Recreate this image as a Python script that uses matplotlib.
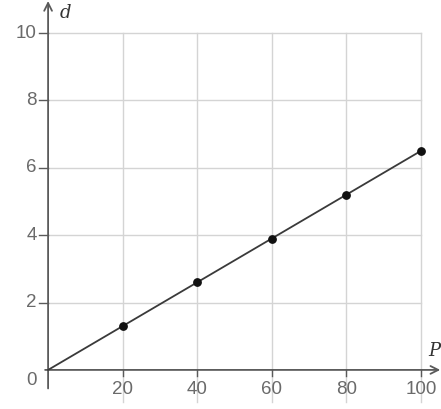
import matplotlib.pyplot as plt
import numpy as np

# P vs d data points
p_vals = [20, 40, 60, 80, 100]
d_vals = [1.3, 2.6, 3.9, 5.2, 6.5]
x_ticks = [20, 40, 60, 80, 100]
y_ticks = [2, 4, 6, 8, 10]

plt.rcParams['font.family'] = ['Liberation Sans', 'DejaVu Sans']

fig = plt.figure(figsize=(4.41, 4.09), dpi=100)
ax = fig.add_axes([0, 0, 1, 1])
ax.set_xlim(-12.9, 105.4)
ax.set_ylim(-1.16, 10.98)
ax.axis('off')

grid_c = '#d4d4d4'
axis_c = '#5a5a5a'
text_c = '#6a6a6a'

# grid
for x in x_ticks:
    ax.plot([x, x], [-0.95, 10], color=grid_c, lw=1.0, zorder=1)
for y in y_ticks:
    ax.plot([0, 100], [y, y], color=grid_c, lw=1.0, zorder=1)

# axes with arrows
ax.annotate('', xy=(105.2, 0), xytext=(-0.8, 0),
            arrowprops=dict(arrowstyle='->', color=axis_c, lw=1.3,
                            mutation_scale=14, shrinkA=0, shrinkB=0), zorder=3)
ax.annotate('', xy=(0, 10.95), xytext=(0, -0.55),
            arrowprops=dict(arrowstyle='->', color=axis_c, lw=1.3,
                            mutation_scale=14, shrinkA=0, shrinkB=0), zorder=3)

# tick marks
for x in x_ticks:
    ax.plot([x, x], [0, -0.17], color=axis_c, lw=1.0, zorder=3)
for y in y_ticks:
    ax.plot([0, -2.4], [y, y], color=axis_c, lw=1.0, zorder=3)

# tick labels
fs = 13.5
for x in x_ticks:
    ax.text(x, -0.58, str(x), ha='center', va='center', fontsize=fs, color=text_c)
for y in y_ticks:
    ax.text(-3.0, y, str(y), ha='right', va='center', fontsize=fs, color=text_c)
ax.text(-3.0, -0.3, '0', ha='right', va='center', fontsize=fs, color=text_c)

# axis names
ax.text(4.6, 10.6, 'd', fontsize=13, style='italic', family='DejaVu Serif',
        color='#333333', ha='center', va='center')
ax.text(105.3, 0.55, 'P', fontsize=13, style='italic', family='DejaVu Serif',
        color='#333333', ha='right', va='center')

# line through origin and points
ax.plot([0] + p_vals, [0] + d_vals, color='#3a3a3a', lw=1.3, zorder=4)
ax.scatter(p_vals, d_vals, s=28, color='#111111', zorder=5)

fig.savefig('out.png', dpi=100)
